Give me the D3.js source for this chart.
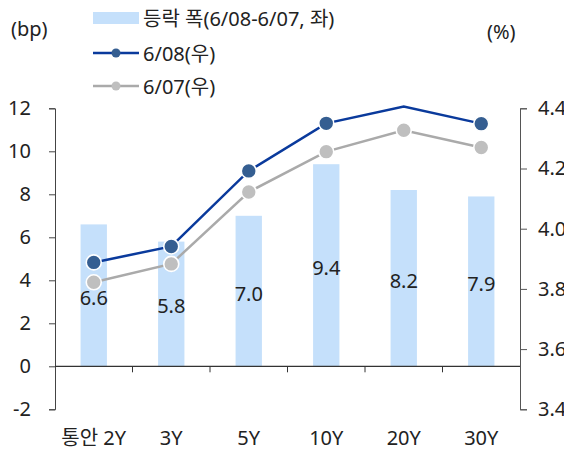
<!DOCTYPE html>
<html>
<head>
<meta charset="utf-8">
<script src="https://cdn.jsdelivr.net/npm/d3@7"></script>
<style>
  body { margin: 0; background: #fff; }
  svg text { font-family: "Noto Sans", "Noto Sans CJK KR", sans-serif; fill: #222; }
</style>
</head>
<body>
<script>
const categories = ['통안 2Y', '3Y', '5Y', '10Y', '20Y', '30Y'];
const spreadBp = [6.6, 5.8, 7.0, 9.4, 8.2, 7.9];
const yield0608 = [3.888, 3.941, 4.192, 4.350, 4.406, 4.349];
const yield0607 = [3.822, 3.883, 4.122, 4.256, 4.327, 4.270];
const leftTicks = [-2, 0, 2, 4, 6, 8, 10, 12];
const rightTicks = [3.4, 3.6, 3.8, 4.0, 4.2, 4.4];

function plot()
{
    const W = 564, H = 451, fs = '20px';
    const left = 55, right = 520, top = 108.3, bottom = 409.3;
    const svg = d3.select('body').append('svg')
        .attr('width', W).attr('height', H);

    const x = d3.scaleBand().domain(categories).range([left, right]).padding(0);
    const yL = d3.scaleLinear().domain([-2, 12]).range([bottom, top]);
    const yR = d3.scaleLinear().domain([3.4, 4.4]).range([bottom, top]);
    const cx = c => x(c) + x.bandwidth() / 2;

    // bars
    const bw = x.bandwidth() * 0.34;
    svg.append('g').selectAll('rect')
        .data(spreadBp).enter().append('rect')
        .attr('x', (d, i) => cx(categories[i]) - bw / 2)
        .attr('y', d => yL(d))
        .attr('width', bw)
        .attr('height', d => yL(0) - yL(d))
        .attr('fill', '#c5e0fb');

    // left axis
    const axL = svg.append('g').attr('transform', `translate(${left},0)`)
        .call(d3.axisLeft(yL).tickValues(leftTicks).tickSize(6).tickPadding(18).tickFormat(d => String(d)));
    axL.select('.domain').attr('stroke', '#444');
    axL.selectAll('.tick line').attr('stroke', '#444');
    axL.selectAll('text').style('font-size', fs);

    // right axis
    const axR = svg.append('g').attr('transform', `translate(${right},0)`)
        .call(d3.axisRight(yR).tickValues(rightTicks).tickSize(7).tickPadding(11).tickFormat(d3.format('.1f')));
    axR.select('.domain').attr('stroke', '#555');
    axR.selectAll('.tick line').attr('stroke', '#555');
    axR.selectAll('text').style('font-size', fs);

    // x axis at zero
    const axX = svg.append('g').attr('transform', `translate(0,${yL(0)})`);
    axX.append('line').attr('x1', left).attr('x2', right)
        .attr('stroke', '#333').attr('stroke-width', 1.2);
    axX.selectAll('line.tk')
        .data(categories.slice(1)).enter().append('line')
        .attr('class', 'tk')
        .attr('x1', d => x(d)).attr('x2', d => x(d))
        .attr('y1', 0).attr('y2', 6)
        .attr('stroke', '#333');
    svg.append('g').selectAll('text')
        .data(categories).enter().append('text')
        .attr('x', d => cx(d)).attr('y', 437)
        .attr('text-anchor', 'middle').attr('dominant-baseline', 'central')
        .style('font-size', fs)
        .text(d => d);

    // bar labels
    svg.append('g').selectAll('text')
        .data(spreadBp).enter().append('text')
        .attr('x', (d, i) => cx(categories[i]))
        .attr('y', d => yL(d / 2) + 2)
        .attr('text-anchor', 'middle').attr('dominant-baseline', 'central')
        .style('font-size', fs)
        .text(d => d.toFixed(1));

    // lines
    const series = [
        { vals: yield0607, line: '#aaaaaa', dot: '#bfbfbf' },
        { vals: yield0608, line: '#0a3a9c', dot: '#355e91' },
    ];
    const lineMaker = d3.line()
        .x((d, i) => cx(categories[i]))
        .y(d => yR(d));
    series.forEach(s => {
        const g = svg.append('g');
        g.append('path')
            .attr('d', lineMaker(s.vals))
            .attr('fill', 'none').attr('stroke', s.line).attr('stroke-width', 2.5);
        g.selectAll('circle')
            .data(s.vals.map((v, i) => ({ v, c: categories[i] })).filter(d => d.v <= 4.4))
            .enter().append('circle')
            .attr('cx', d => cx(d.c)).attr('cy', d => yR(d.v))
            .attr('r', 7.5)
            .attr('fill', s.dot).attr('stroke', '#fff').attr('stroke-width', 1.6);
    });

    // unit labels
    svg.append('text').attr('x', 11).attr('y', 28)
        .attr('dominant-baseline', 'central').style('font-size', fs).text('(bp)');
    svg.append('text').attr('x', 487).attr('y', 31)
        .attr('dominant-baseline', 'central').style('font-size', fs).text('(%)');

    // legend
    const lg = svg.append('g');
    lg.append('rect').attr('x', 93).attr('y', 12).attr('width', 46).attr('height', 12)
        .attr('fill', '#c5e0fb');
    lg.append('text').attr('x', 143).attr('y', 18).attr('dominant-baseline', 'central')
        .style('font-size', fs).text('등락 폭(6/08-6/07, 좌)');
    [[53, '#0a3a9c', '#355e91', '6/08(우)'], [86, '#aaaaaa', '#bfbfbf', '6/07(우)']].forEach(([ly, lc, dc, t]) => {
        lg.append('line').attr('x1', 93).attr('x2', 139).attr('y1', ly).attr('y2', ly)
            .attr('stroke', lc).attr('stroke-width', 2.5);
        lg.append('circle').attr('cx', 116).attr('cy', ly).attr('r', 4.5).attr('fill', dc);
        lg.append('text').attr('x', 143).attr('y', ly).attr('dominant-baseline', 'central')
            .style('font-size', fs).text(t);
    });
}

plot();
</script>
</body>
</html>
